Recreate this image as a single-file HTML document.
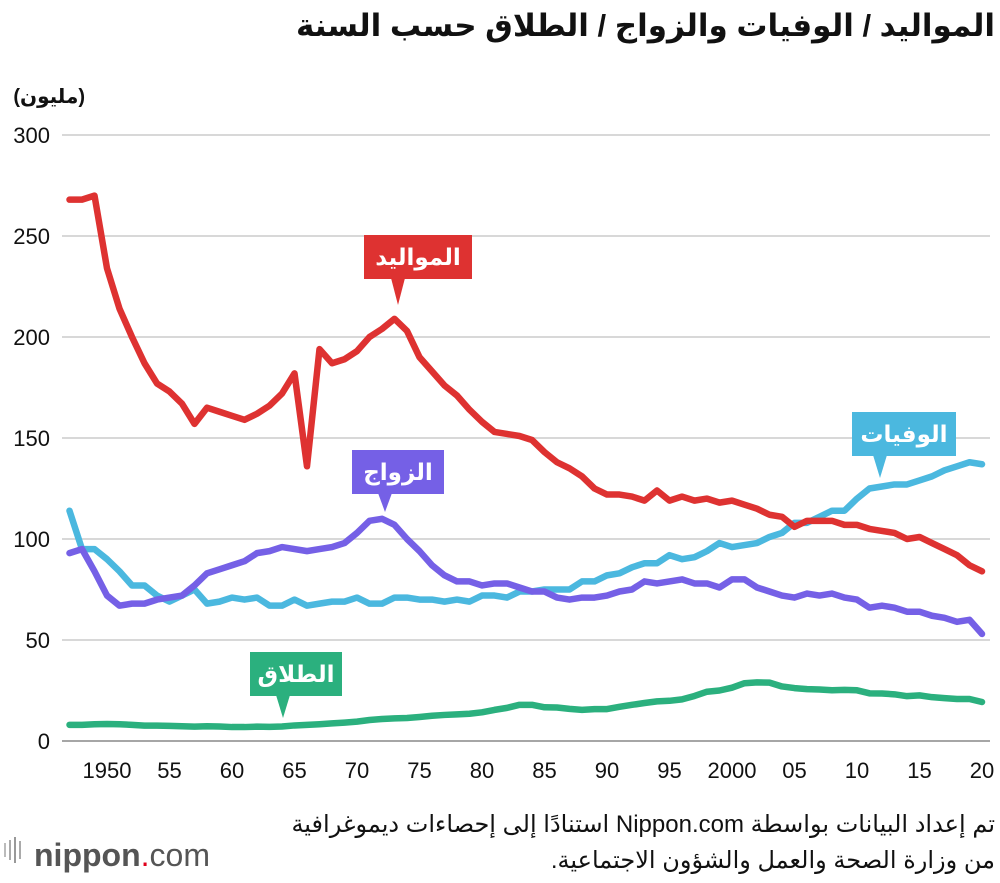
<!DOCTYPE html>
<html><head><meta charset="utf-8"><style>
body{margin:0;background:#fff;width:1000px;height:878px;overflow:hidden;font-family:"Liberation Sans","DejaVu Sans",sans-serif}
svg text{font-family:"Liberation Sans","DejaVu Sans",sans-serif}
</style></head><body>
<svg id="chart" width="1000" height="878" xmlns="http://www.w3.org/2000/svg">
<text x="995" y="36" text-anchor="start" font-size="31" font-weight="bold" fill="#111" direction="rtl">المواليد / الوفيات والزواج / الطلاق حسب السنة</text>
<text x="85" y="103" text-anchor="end" font-size="20" font-weight="bold" fill="#111">(مليون)</text>
<g id="grid"></g><g id="lines"></g><g id="labels"></g>
<text x="995" y="832" text-anchor="start" font-size="24" fill="#111" direction="rtl">تم إعداد البيانات بواسطة Nippon.com استنادًا إلى إحصاءات ديموغرافية</text>
<text x="995" y="868" text-anchor="start" font-size="24" fill="#111" direction="rtl">من وزارة الصحة والعمل والشؤون الاجتماعية.</text>
<g>
<rect x="4" y="843" width="2" height="14" fill="#bbb"/><rect x="9" y="840" width="2" height="20" fill="#aaa"/><rect x="14" y="837" width="2" height="26" fill="#999"/><rect x="19" y="841" width="2" height="18" fill="#aaa"/>
<text x="34" y="866" font-size="32" fill="#555"><tspan font-weight="bold">nippon</tspan><tspan fill="#e0001b">.</tspan><tspan>com</tspan></text>
</g>
</svg>
<script>
const years=[];for(let y=1947;y<=2020;y++)years.push(y);
const births=[268,268,270,234,214,200,187,177,173,167,157,165,163,161,159,162,166,172,182,136,194,187,189,193,200,204,209,203,190,183,176,171,164,158,153,152,151,149,143,138,135,131,125,122,122,121,119,124,119,121,119,120,118,119,117,115,112,111,106,109,109,109,107,107,105,104,103,100,101,98,95,92,87,84];
const deaths=[114,95,95,90,84,77,77,72,69,72,75,68,69,71,70,71,67,67,70,67,68,69,69,71,68,68,71,71,70,70,69,70,69,72,72,71,74,74,75,75,75,79,79,82,83,86,88,88,92,90,91,94,98,96,97,98,101,103,108,108,111,114,114,120,125,126,127,127,129,131,134,136,138,137];
const marriages=[93,95,84,72,67,68,68,70,71,72,77,83,85,87,89,93,94,96,95,94,95,96,98,103,109,110,107,100,94,87,82,79,79,77,78,78,76,74,74,71,70,71,71,72,74,75,79,78,79,80,78,78,76,80,80,76,74,72,71,73,72,73,71,70,66,67,66,64,64,62,61,59,60,53];
const divorces=[8,8,8.3,8.4,8.3,8,7.6,7.6,7.5,7.3,7.1,7.3,7.2,6.9,6.9,7.1,7,7.2,7.7,8,8.3,8.7,9.1,9.6,10.4,10.9,11.2,11.4,11.9,12.5,12.9,13.2,13.5,14.2,15.4,16.4,17.9,17.9,16.7,16.6,15.9,15.4,15.8,15.8,16.9,17.9,18.8,19.6,19.9,20.6,22.3,24.4,25,26.4,28.6,29,28.9,27,26.2,25.7,25.5,25.1,25.3,25.1,23.6,23.5,23.1,22.2,22.6,21.7,21.2,20.8,20.8,19.3];
const yTicks=[0,50,100,150,200,250,300];
const xTickYears=[1950,1955,1960,1965,1970,1975,1980,1985,1990,1995,2000,2005,2010,2015,2020];
const xTickLabels=["1950","55","60","65","70","75","80","85","90","95","2000","05","10","15","20"];
const X=y=>107+(y-1950)*12.5, Y=v=>741-v*2.02;
const NS="http://www.w3.org/2000/svg";
function mk(t,a,p){const e=document.createElementNS(NS,t);for(const k in a)e.setAttribute(k,a[k]);p.appendChild(e);return e;}
const grid=document.getElementById('grid');
yTicks.forEach(v=>{
 const l=mk('line',{x1:62,x2:990,y1:Y(v),y2:Y(v),stroke:v===0?'#888':'#ccc','stroke-width':1.5},grid);
 
 
 const t=mk('text',{x:50,y:Y(v)+8,'text-anchor':'end','font-size':22,fill:'#111'},grid);t.textContent=v;
 
 
});
xTickYears.forEach((y,i)=>{
 const t=mk('text',{x:X(y),y:778,'text-anchor':'middle','font-size':22,fill:'#111'},grid);t.textContent=xTickLabels[i];
 
 
});
const lines=document.getElementById('lines');
[[divorces,'#2bb07e','divorces-line'],[deaths,'#4bb8df','deaths-line'],[marriages,'#7560e6','marriages-line'],[births,'#de3231','births-line']].forEach(([d,c,n])=>{
 const p=mk('polyline',{points:d.map((v,i)=>X(years[i])+','+Y(v)).join(' '),fill:'none',stroke:c,'stroke-width':6.5,'stroke-linejoin':'round','stroke-linecap':'round'},lines);
 
 
});
const labels=document.getElementById('labels');
function callout(text,cx,top,w,color,tipx,tipy,name){
 const g=mk('g',{},labels);
 
 
 mk('rect',{x:cx-w/2,y:top,width:w,height:44,fill:color},g);
 mk('polygon',{points:`${tipx-7},${top+43} ${tipx+7},${top+43} ${tipx},${tipy}`,fill:color},g);
 const t=mk('text',{x:cx,y:top+30,'text-anchor':'middle','font-size':23,'font-weight':'bold',fill:'#fff'},g);t.textContent=text;
}
callout('المواليد',418,235,108,'#de3231',398,305,'births-label');
callout('الوفيات',904,412,104,'#4bb8df',880,478,'deaths-label');
callout('الزواج',398,450,92,'#7560e6',385,512,'marriages-label');
callout('الطلاق',296,652,92,'#2bb07e',283,718,'divorces-label');
</script>
</body></html>
